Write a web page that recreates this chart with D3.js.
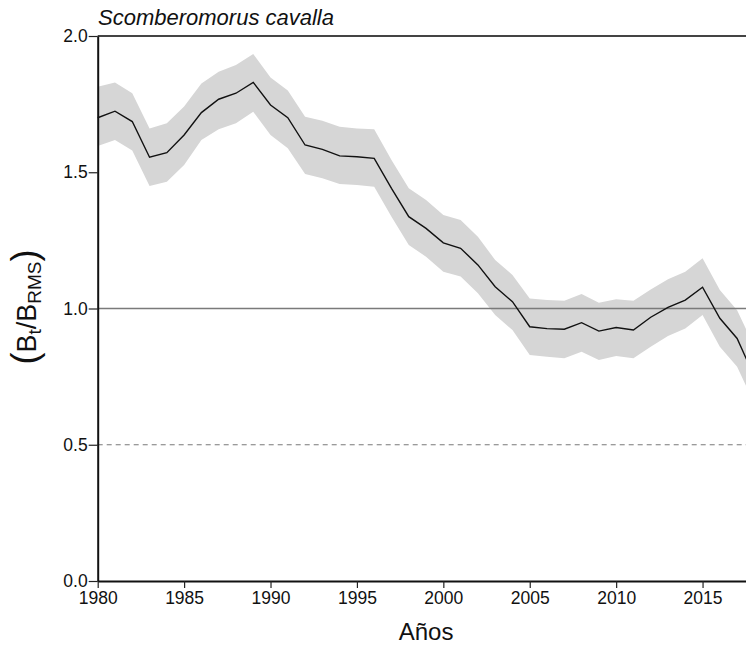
<!DOCTYPE html>
<html>
<head>
<meta charset="utf-8">
<script src="https://cdn.jsdelivr.net/npm/d3@7"></script>
<style>
  html, body { margin: 0; padding: 0; background: #fff; }
  svg { display: block; font-family: Arial, "Liberation Sans", Helvetica, sans-serif; }
</style>
</head>
<body>
<svg id="chart" width="746" height="645"></svg>
<script>
const years = d3.range(1980, 2019);
const ratio = [1.70,1.724,1.686,1.555,1.572,1.637,1.719,1.768,1.79,1.83,
               1.747,1.70,1.60,1.584,1.56,1.557,1.551,1.441,1.337,1.294,
               1.241,1.221,1.16,1.08,1.025,0.933,0.926,0.924,0.948,0.917,
               0.93,0.921,0.968,1.004,1.031,1.078,0.964,0.89,0.75];
const upper = [1.814,1.829,1.79,1.661,1.68,1.741,1.826,1.869,1.894,1.934,
               1.848,1.80,1.704,1.689,1.667,1.661,1.658,1.545,1.441,1.398,
               1.343,1.325,1.263,1.178,1.123,1.037,1.031,1.028,1.053,1.021,
               1.034,1.028,1.07,1.107,1.135,1.184,1.068,0.994,0.86];
const lower = [1.596,1.618,1.58,1.45,1.465,1.527,1.618,1.658,1.68,1.722,
               1.637,1.588,1.494,1.478,1.457,1.453,1.447,1.337,1.233,1.19,
               1.135,1.117,1.056,0.976,0.921,0.829,0.823,0.817,0.841,0.811,
               0.826,0.817,0.86,0.899,0.927,0.976,0.86,0.786,0.65];
const xTicks = [1980, 1985, 1990, 1995, 2000, 2005, 2010, 2015];
const yTicks = [0, 0.5, 1.0, 1.5, 2.0];
const refLevels = [1.0, 0.5];
const title = "Scomberomorus cavalla";
const xTitle = "Años";

const svg = d3.select("#chart");
const x = d3.scaleLinear().domain([1980, 2018]).range([97.7, 754.4]);
const y = d3.scaleLinear().domain([0, 2]).range([581, 36]);

const data = years.map((yr, i) => ({yr, v: ratio[i], hi: upper[i], lo: lower[i]}));

// confidence band
svg.append("path")
  .datum(data)
  .attr("fill", "#d6d6d6")
  .attr("d", d3.area().x(d => x(d.yr)).y0(d => y(d.lo)).y1(d => y(d.hi)));

// reference lines
svg.append("line")
  .attr("x1", x(1980)).attr("x2", x(2018))
  .attr("y1", y(refLevels[0])).attr("y2", y(refLevels[0]))
  .attr("stroke", "#7a7a7a").attr("stroke-width", 1.6);
svg.append("line")
  .attr("x1", x(1980)).attr("x2", x(2018))
  .attr("y1", y(refLevels[1])).attr("y2", y(refLevels[1]))
  .attr("stroke", "#7a7a7a").attr("stroke-width", 1.2)
  .attr("stroke-dasharray", "5,4");

// main line
svg.append("path")
  .datum(data)
  .attr("fill", "none")
  .attr("stroke", "#111")
  .attr("stroke-width", 1.4)
  .attr("d", d3.line().x(d => x(d.yr)).y(d => y(d.v)));

// top border
svg.append("line")
  .attr("x1", x(1980)).attr("x2", x(2018))
  .attr("y1", y(2)).attr("y2", y(2))
  .attr("stroke", "#444").attr("stroke-width", 2);

// axes
const xAxis = svg.append("g")
  .attr("transform", `translate(0,${y(0)})`)
  .call(d3.axisBottom(x).tickValues(xTicks).tickFormat(d3.format("d"))
        .tickSize(7).tickPadding(4).tickSizeOuter(0));
const yAxis = svg.append("g")
  .attr("transform", `translate(${x(1980)},0)`)
  .call(d3.axisLeft(y).tickValues(yTicks).tickFormat(d3.format(".1f"))
        .tickSize(9).tickPadding(1).tickSizeOuter(0));

[xAxis, yAxis].forEach(g => {
  g.select(".domain").attr("stroke", "#111").attr("stroke-width", 2);
  g.selectAll(".tick line").attr("stroke", "#222").attr("stroke-width", 1.2);
  g.selectAll(".tick text").attr("fill", "#111").style("font-size", "17.5px")
    .style("font-family", "Arial, 'Liberation Sans', Helvetica, sans-serif");
});

// title
svg.append("text")
  .attr("x", 98).attr("y", 25)
  .attr("font-style", "italic")
  .attr("font-size", 22)
  .attr("fill", "#111")
  .text(title);

// x title
svg.append("text")
  .attr("x", (x(1980) + x(2018)) / 2).attr("y", 640)
  .attr("text-anchor", "middle")
  .attr("font-size", 24)
  .attr("fill", "#111")
  .text(xTitle);

// y title (B_t / B_RMS)
const yt = svg.append("text")
  .attr("transform", "translate(36,307) rotate(-90)")
  .attr("text-anchor", "middle")
  .attr("fill", "#111")
  .attr("font-size", 27);
yt.append("tspan").attr("font-size", 36).attr("dy", 1).text("(");
yt.append("tspan").attr("dy", -1).text("B");
yt.append("tspan").attr("font-size", 19).attr("dy", 5).text("t");
yt.append("tspan").attr("dy", -5).text("/");
yt.append("tspan").text("B");
yt.append("tspan").attr("font-size", 19).attr("dy", 5).text("RMS");
yt.append("tspan").attr("font-size", 36).attr("dy", -4).text(")");
</script>
</body>
</html>
